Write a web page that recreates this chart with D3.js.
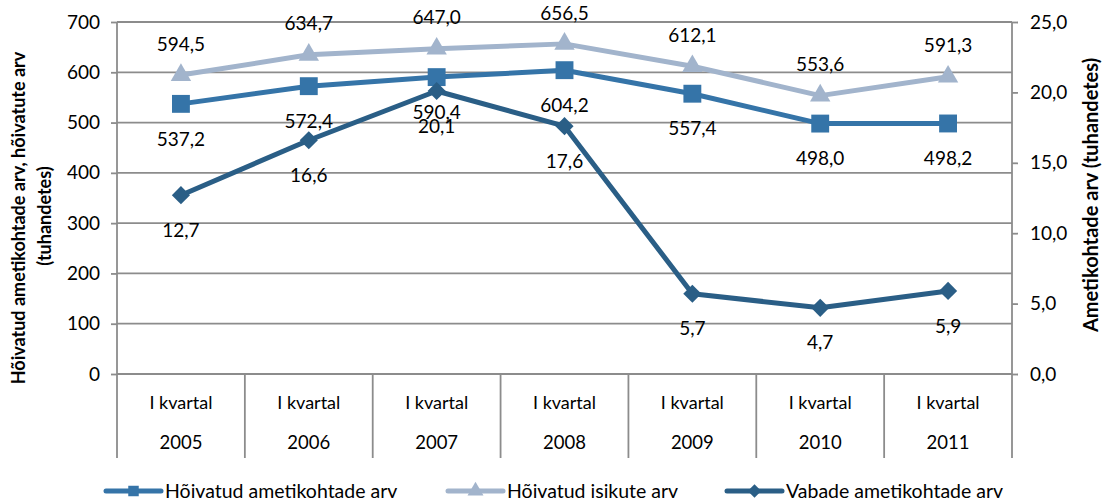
<!DOCTYPE html>
<html>
<head>
<meta charset="utf-8">
<script src="https://cdn.jsdelivr.net/npm/d3@7"></script>
<style>
  body { margin: 0; background: #fff; }
  svg text { font-family: Lato, "Open Sans", sans-serif; fill: #000; }
</style>
</head>
<body>
<div id="chart"></div>
<script>
var YEARS = ['2005', '2006', '2007', '2008', '2009', '2010', '2011'];
var QUARTER = 'I kvartal';

var HOIVATUD_KOHAD = [537.2, 572.4, 590.4, 604.2, 557.4, 498.0, 498.2]; // left axis
var HOIVATUD_ISIKUD = [594.5, 634.7, 647.0, 656.5, 612.1, 553.6, 591.3]; // left axis
var VABAD_KOHAD = [12.7, 16.6, 20.1, 17.6, 5.7, 4.7, 5.9]; // right axis

var LEFT_TICKS = [0, 100, 200, 300, 400, 500, 600, 700];
var RIGHT_TICKS = [0, 5, 10, 15, 20, 25];

var LEFT_TITLE = ['Hõivatud ametikohtade arv, hõivatute arv', '(tuhandetes)'];
var RIGHT_TITLE = 'Ametikohtade arv (tuhandetes)';

var W = 1103, H = 503;
var plotL = 117, plotR = 1012, plotT = 22, plotB = 374;
var gridColor = '#8c8c8c';

var fmt = function(v) { return d3.format('.1f')(v).replace('.', ','); };

var svg = d3.select('#chart').append('svg')
    .attr('width', W)
    .attr('height', H);

var x = d3.scaleBand().domain(YEARS).range([plotL, plotR]);
var yL = d3.scaleLinear().domain([0, 700]).range([plotB, plotT]);
var yR = d3.scaleLinear().domain([0, 25]).range([plotB, plotT]);
var cx = function(i) { return x(YEARS[i]) + x.bandwidth() / 2; };

// gridlines
svg.append('g')
  .selectAll('line')
  .data(LEFT_TICKS)
  .enter().append('line')
    .attr('x1', plotL).attr('x2', plotR)
    .attr('y1', function(d) { return yL(d); })
    .attr('y2', function(d) { return yL(d); })
    .attr('stroke', gridColor)
    .attr('stroke-width', 1.8);

// left axis
var axL = svg.append('g')
    .attr('transform', 'translate(' + plotL + ',0)')
    .call(d3.axisLeft(yL).tickValues(LEFT_TICKS).tickSize(6).tickPadding(11));
axL.select('.domain').remove();
axL.selectAll('line').attr('stroke', gridColor).attr('stroke-width', 1.8);
axL.selectAll('text').style('font-size', '19px');

// right axis
var axR = svg.append('g')
    .attr('transform', 'translate(' + plotR + ',0)')
    .call(d3.axisRight(yR).tickValues(RIGHT_TICKS).tickSize(6).tickPadding(12).tickFormat(fmt));
axR.select('.domain').remove();
axR.selectAll('line').attr('stroke', gridColor).attr('stroke-width', 1.8);
axR.selectAll('text').style('font-size', '19px');
svg.selectAll('g').attr('font-family', null).attr('font-size', null);

// vertical axis lines and category separators
var catBottom = 458;
svg.append('g')
  .selectAll('line')
  .data(YEARS.concat(['end']))
  .enter().append('line')
    .attr('x1', function(d, i) { return i < YEARS.length ? x(d) : plotR; })
    .attr('x2', function(d, i) { return i < YEARS.length ? x(d) : plotR; })
    .attr('y1', function(d, i) { return (i === 0 || i === YEARS.length) ? plotT : plotB; })
    .attr('y2', catBottom)
    .attr('stroke', gridColor)
    .attr('stroke-width', 1.8);

// category labels
var cats = svg.append('g').style('font-size', '18px').attr('text-anchor', 'middle');
cats.selectAll('.q').data(YEARS).enter().append('text')
    .attr('x', function(d) { return x(d) + x.bandwidth() / 2; })
    .attr('y', 403).attr('dy', '0.35em')
    .text(QUARTER);
cats.selectAll('.yr').data(YEARS).enter().append('text')
    .attr('x', function(d) { return x(d) + x.bandwidth() / 2; })
    .attr('y', 443).attr('dy', '0.35em')
    .style('font-size', '18.5px')
    .text(function(d) { return d; });

// axis titles
svg.append('text')
    .attr('transform', 'translate(19,218) rotate(-90)')
    .attr('text-anchor', 'middle').attr('dy', '0.35em')
    .style('font-size', '18px').style('font-weight', 'bold')
    .text(LEFT_TITLE[0]);
svg.append('text')
    .attr('transform', 'translate(45,216) rotate(-90)')
    .attr('text-anchor', 'middle').attr('dy', '0.35em')
    .style('font-size', '18px').style('font-weight', 'bold')
    .text(LEFT_TITLE[1]);
svg.append('text')
    .attr('transform', 'translate(1091,195) rotate(-90)')
    .attr('text-anchor', 'middle').attr('dy', '0.35em')
    .style('font-size', '20px').style('font-weight', 'bold')
    .text(RIGHT_TITLE);

var series = [
  { name: 'Hõivatud ametikohtade arv', values: HOIVATUD_KOHAD, y: yL, color: '#3574a8', symbol: d3.symbolSquare, size: 320, rot: 0, labelDy: 35 },
  { name: 'Hõivatud isikute arv', values: HOIVATUD_ISIKUD, y: yL, color: '#a2b4cc', symbol: d3.symbolTriangle, size: 180, rot: 0, labelDy: -31 },
  { name: 'Vabade ametikohtade arv', values: VABAD_KOHAD, y: yR, color: '#2a5e86', symbol: d3.symbolSquare, size: 165, rot: 45, labelDy: 35 }
];

series.forEach(function(s) {
  var line = d3.line()
    .x(function(d, i) { return cx(i); })
    .y(function(d) { return s.y(d); });
  svg.append('path')
    .datum(s.values)
    .attr('fill', 'none')
    .attr('stroke', s.color)
    .attr('stroke-width', 5)
    .attr('stroke-linejoin', 'round')
    .attr('d', line);
  svg.append('g').selectAll('path')
    .data(s.values)
    .enter().append('path')
      .attr('d', d3.symbol().type(s.symbol).size(s.size))
      .attr('transform', function(d, i) { return 'translate(' + cx(i) + ',' + s.y(d) + ') rotate(' + s.rot + ')'; })
      .attr('fill', s.color);
});

// data labels
series.forEach(function(s) {
  svg.append('g').selectAll('text')
    .data(s.values)
    .enter().append('text')
      .attr('x', function(d, i) { return cx(i); })
      .attr('y', function(d) { return s.y(d) + s.labelDy; })
      .attr('dy', '0.35em')
      .attr('text-anchor', 'middle')
      .style('font-size', '19px')
      .text(fmt);
});

// legend
var legendX = [106, 448, 727];
var legendSize = [110, 110, 90];
var lg = svg.append('g');
series.forEach(function(s, k) {
  var g = lg.append('g').attr('transform', 'translate(' + legendX[k] + ',491)');
  g.append('line').attr('x1', 0).attr('x2', 55).attr('y1', 0).attr('y2', 0)
    .attr('stroke', s.color).attr('stroke-width', 5).attr('stroke-linecap', 'round');
  g.append('path')
    .attr('d', d3.symbol().type(s.symbol).size(legendSize[k]))
    .attr('transform', 'translate(27.5,0) rotate(' + s.rot + ')')
    .attr('fill', s.color);
  g.append('text').attr('x', 59).attr('dy', '0.35em')
    .style('font-size', '19.5px')
    .text(s.name);
});
</script>
</body>
</html>
